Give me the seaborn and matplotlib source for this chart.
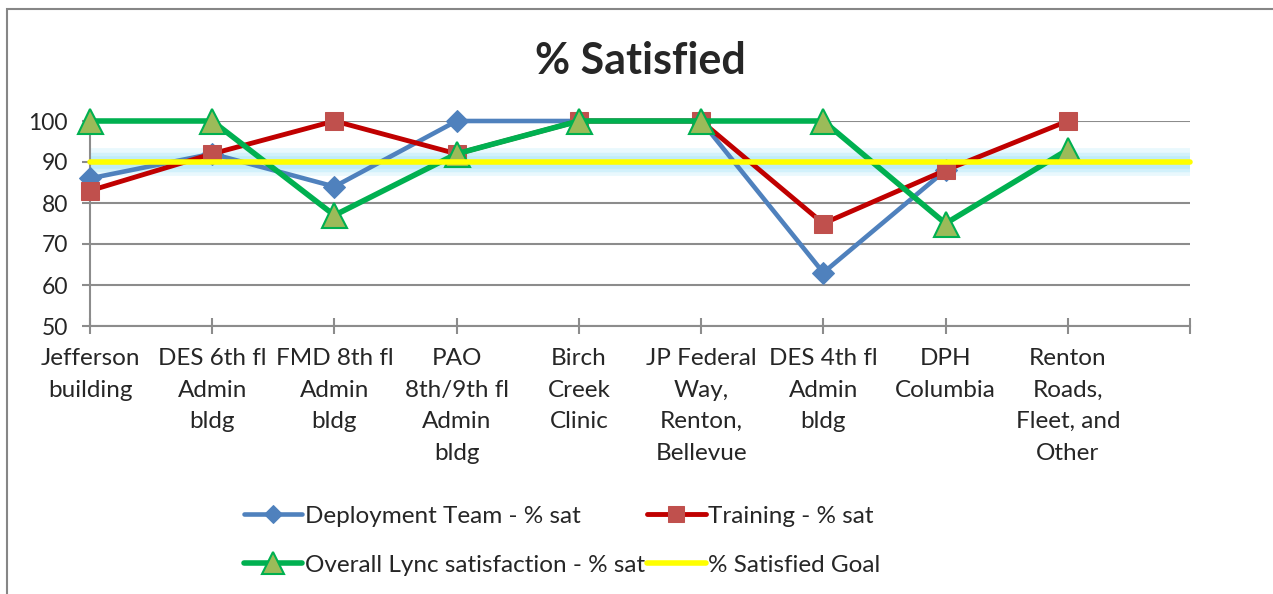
import matplotlib
matplotlib.use("Agg")
import matplotlib.pyplot as plt
import numpy as np
import seaborn as sns
from matplotlib.patches import Rectangle

# data
categories = [
    "Jefferson\nbuilding",
    "DES 6th fl\nAdmin\nbldg",
    "FMD 8th fl\nAdmin\nbldg",
    "PAO\n8th/9th fl\nAdmin\nbldg",
    "Birch\nCreek\nClinic",
    "JP Federal\nWay,\nRenton,\nBellevue",
    "DES 4th fl\nAdmin\nbldg",
    "DPH\nColumbia",
    "Renton\nRoads,\nFleet, and\nOther",
    "",
]
deployment = [86, 92, 84, 100, 100, 100, 63, 88, np.nan]
training = [83, 92, 100, 92, 100, 100, 75, 88, 100]
overall = [100, 100, 77, 92, 100, 100, 100, 75, 93]
goal = [90, 90, 90, 90, 90, 90, 90, 90, 90, 90]
y_ticks = [50, 60, 70, 80, 90, 100]

sns.set_style("white")
plt.rcParams["font.family"] = ["Lato", "DejaVu Sans"]

fig = plt.figure(figsize=(12.73, 5.94), dpi=100)
W, H = 1273, 594
ax = fig.add_axes([90 / W, 1 - 326 / H, 1100 / W, 205 / H])

# outer chart-area frame
fig.patches.append(Rectangle((7 / W, -0.1), 1.2, 1 - 9 / H + 0.1,
                             transform=fig.transFigure, fill=False,
                             edgecolor="#868686", linewidth=1.5))

pos = list(range(len(categories)))
n = len(training)

# glow under the goal line
for lw, a in [(20, 0.25), (14, 0.35), (9, 0.45)]:
    ax.plot(pos, goal, color="#a8e6f8", lw=lw, alpha=a,
            solid_capstyle="butt", zorder=2)

sns.lineplot(x=pos[:n], y=deployment, ax=ax, color="#4F81BD", lw=3.3,
             marker="D", markersize=11, markerfacecolor="#4F81BD",
             markeredgecolor="#4F81BD", label="Deployment Team - % sat",
             zorder=4, clip_on=False)
sns.lineplot(x=pos[:n], y=training, ax=ax, color="#C00000", lw=3.5,
             marker="s", markersize=13.5, markerfacecolor="#C0504D",
             markeredgecolor="#C0504D", label="Training - % sat",
             zorder=5, clip_on=False)
sns.lineplot(x=pos[:n], y=overall, ax=ax, color="#00B050", lw=4,
             marker="^", markersize=18, markerfacecolor="#9BBB59",
             markeredgecolor="#00B050", markeredgewidth=1.5,
             label="Overall Lync satisfaction - % sat", zorder=6,
             clip_on=False)
sns.lineplot(x=pos, y=goal, ax=ax, color="#FFFF00", lw=4,
             label="% Satisfied Goal", zorder=7, clip_on=False)

ax.set_xlim(0, len(categories) - 1)
ax.set_ylim(50, 100)
ax.set_yticks(y_ticks)
ax.set_xticks(pos)
ax.set_xticklabels(categories, linespacing=1.62)

ax.grid(axis="y", color="#8c8c8c", lw=1.5)
ax.grid(axis="x", visible=False)
for s in ["top", "right"]:
    ax.spines[s].set_visible(False)
for s in ["left", "bottom"]:
    ax.spines[s].set_color("#8c8c8c")
    ax.spines[s].set_linewidth(1.5)
ax.tick_params(axis="x", direction="inout", length=12, width=1.5,
               color="#8c8c8c", labelsize=17.5, pad=10)
ax.tick_params(axis="y", direction="out", length=6, width=1.5,
               color="#8c8c8c", labelsize=16.5, pad=10)
ax.tick_params(bottom=True, left=True)

fig.text(640 / W, 1 - 61 / H, "% Satisfied", ha="center", va="center",
         fontsize=31, fontweight="bold")

h, l = ax.get_legend_handles_labels()
order = [0, 2, 1, 3]
ax.legend([h[i] for i in order], [l[i] for i in order], ncol=2,
          loc="upper left", bbox_to_anchor=(222 / W, 1 - 484 / H),
          bbox_transform=fig.transFigure, frameon=False, fontsize=17.5,
          handlelength=2.4, handletextpad=0.1, columnspacing=0.1,
          labelspacing=1.15, markerscale=0.85)

fig.savefig("out.png", dpi=100)
